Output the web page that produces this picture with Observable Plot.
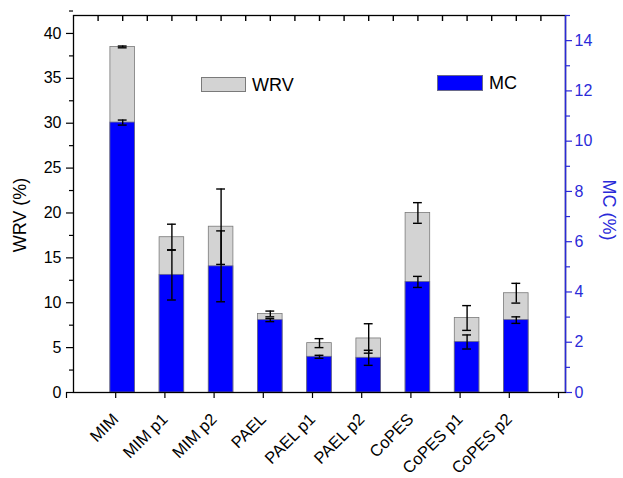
<!DOCTYPE html>
<html>
<head>
<meta charset="utf-8">
<script src="https://cdn.jsdelivr.net/npm/d3@7"></script>
<script src="https://cdn.jsdelivr.net/npm/@observablehq/plot@0.6"></script>
<style>
  html, body { margin: 0; padding: 0; background: #fff; }
  #wrap { position: relative; width: 623px; height: 478px; font-family: "Liberation Sans", Arial, sans-serif; }
  #wrap svg { display: block; }
  .sw { position: absolute; box-sizing: border-box; }
  .lt { position: absolute; font-size: 18px; line-height: 18px; color: #000; }
</style>
</head>
<body>
<div id="wrap"></div>
<script>
const categories = ["MIM", "MIM p1", "MIM p2", "PAEL", "PAEL p1", "PAEL p2", "CoPES", "CoPES p1", "CoPES p2"];
const wrv    = [38.5, 17.3, 18.47, 8.75, 5.5, 6.02, 20.0, 8.3, 11.06];
const wrvErr = [0.1, 1.45, 4.2, 0.32, 0.5, 1.64, 1.15, 1.38, 1.1];
const mc     = [10.74, 4.68, 5.02, 2.88, 1.42, 1.38, 4.4, 2.01, 2.88];
const mcErr  = [0.1, 1.0, 1.41, 0.06, 0.06, 0.3, 0.22, 0.28, 0.13];
const wrvTicks = [0, 5, 10, 15, 20, 25, 30, 35, 40];
const mcTicks = [0, 2, 4, 6, 8, 10, 12, 14];
const wrvMax = 42, mcMax = 15;
const k = wrvMax / mcMax; // MC -> WRV axis units

const W = 623, H = 478, mL = 73, mR = 58, mT = 15, mB = 86;
const blue = "#0000ff";
const axisBlue = "#2a2ad8";
const data = categories.map((c, i) => ({
  c, pos: i + 1, wrv: wrv[i], wrvErr: wrvErr[i], mc: mc[i] * k, mcErr: mcErr[i] * k
}));
const half = 0.25, cap = 0.09;
const topTicks = d3.range(0.5, 10, 0.5);
const topTickLen = 5.5 * wrvMax / (H - mT - mB); // tick length in y units

const chart = Plot.plot({
  width: W, height: H,
  marginLeft: mL, marginRight: mR, marginTop: mT, marginBottom: mB,
  style: { fontFamily: "Liberation Sans, Arial, sans-serif", fontSize: "16px", color: "#000", background: "#fff" },
  x: { type: "linear", domain: [0, 10] },
  y: { domain: [0, wrvMax] },
  marks: [
    Plot.rectY(data, { x1: d => d.pos - half, x2: d => d.pos + half, y1: 0, y2: "wrv", fill: "#d3d3d3", stroke: "#7a7a7a", strokeWidth: 0.8 }),
    Plot.rectY(data, { x1: d => d.pos - half, x2: d => d.pos + half, y1: 0, y2: "mc", fill: blue, stroke: "#6a6a8a", strokeWidth: 0.8 }),
    // WRV error bars
    Plot.ruleX(data, { x: "pos", y1: d => d.wrv - d.wrvErr, y2: d => d.wrv + d.wrvErr, stroke: "#000", strokeWidth: 1.4 }),
    Plot.ruleY(data, { y: d => d.wrv + d.wrvErr, x1: d => d.pos - cap, x2: d => d.pos + cap, stroke: "#000", strokeWidth: 1.4 }),
    Plot.ruleY(data, { y: d => d.wrv - d.wrvErr, x1: d => d.pos - cap, x2: d => d.pos + cap, stroke: "#000", strokeWidth: 1.4 }),
    // MC error bars
    Plot.ruleX(data, { x: "pos", y1: d => d.mc - d.mcErr, y2: d => d.mc + d.mcErr, stroke: "#000", strokeWidth: 1.4 }),
    Plot.ruleY(data, { y: d => d.mc + d.mcErr, x1: d => d.pos - cap, x2: d => d.pos + cap, stroke: "#000", strokeWidth: 1.4 }),
    Plot.ruleY(data, { y: d => d.mc - d.mcErr, x1: d => d.pos - cap, x2: d => d.pos + cap, stroke: "#000", strokeWidth: 1.4 }),
    // frame (right side blue)
    Plot.frame({ stroke: "#000", strokeWidth: 1.3 }),
    Plot.ruleX([10], { stroke: axisBlue, strokeWidth: 1.5 }),
    // top inward ticks
    Plot.link(topTicks, { x1: d => d, x2: d => d, y1: () => wrvMax, y2: () => wrvMax - topTickLen, stroke: "#000", strokeWidth: 1.4 }),
    // left axis
    Plot.axisY({ anchor: "left", ticks: wrvTicks, tickSize: 7, tickPadding: 5, label: null, fontSize: 16, strokeWidth: 1.2 }),
    Plot.axisY({ anchor: "left", ticks: wrvTicks.map(v => v + 2.5), tickSize: 4, tickFormat: () => "", label: null, strokeWidth: 1.2 }),
    // right axis (MC)
    Plot.axisY({ anchor: "right", ticks: mcTicks.map(v => v * k), tickFormat: d => String(Math.round(d / k)), tickSize: 6, tickPadding: 3, label: null, color: axisBlue, fontSize: 16, strokeWidth: 1.2 }),
    Plot.axisY({ anchor: "right", ticks: mcTicks.map(v => (v + 1) * k), tickSize: 4, tickFormat: () => "", label: null, color: axisBlue, strokeWidth: 1.2 }),
    // bottom axis
    Plot.axisX({ anchor: "bottom", ticks: d3.range(0, 11), tickFormat: i => (i >= 1 && i <= 9 ? categories[i - 1] : ""), tickRotate: -45, tickSize: 6, tickPadding: 18, dx: -7, label: null, fontSize: 16.5, strokeWidth: 1.2 }),
    // axis titles
    Plot.text(["WRV (%)"], { text: d => d, frameAnchor: "left", textAnchor: "middle", lineAnchor: "middle", dx: -53, dy: 11, rotate: -90, fontSize: 18, fill: "#000" }),
    Plot.text(["MC (%)"], { text: d => d, frameAnchor: "right", textAnchor: "middle", lineAnchor: "middle", dx: 43, dy: 6, rotate: 90, fontSize: 18, fill: axisBlue })
  ]
});

const wrap = document.getElementById("wrap");
wrap.appendChild(chart);

// legend
function addLegend(label, fill, stroke, x, y, w, h) {
  const s = document.createElement("div");
  s.className = "sw";
  s.style.cssText = `left:${x}px;top:${y}px;width:${w}px;height:${h}px;background:${fill};border:1px solid ${stroke};`;
  wrap.appendChild(s);
  const t = document.createElement("div");
  t.className = "lt";
  t.textContent = label;
  t.style.left = (x + w + 6) + "px";
  t.style.top = (y + h / 2 - 9) + "px";
  wrap.appendChild(t);
}
addLegend("WRV", "#d3d3d3", "#7a7a7a", 201, 77, 45, 15);
addLegend("MC", blue, "#6a6a8a", 437, 75, 46, 16);
</script>
</body>
</html>
